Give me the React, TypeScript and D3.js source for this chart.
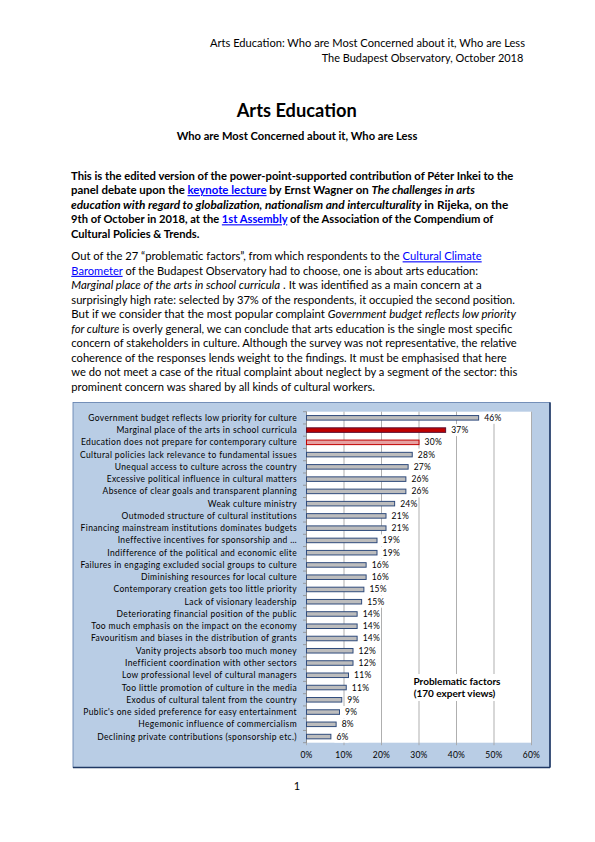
import React from "react";
import * as d3 from "d3";

const categories: string[] = [
  "Government budget reflects low priority for culture",
  "Marginal place of the arts in school curricula",
  "Education does not prepare for contemporary culture",
  "Cultural policies lack relevance to fundamental issues",
  "Unequal access to culture across the country",
  "Excessive political influence in cultural matters",
  "Absence of clear goals and transparent planning",
  "Weak culture ministry",
  "Outmoded structure of cultural institutions",
  "Financing mainstream institutions dominates budgets",
  "Ineffective incentives for sponsorship and …",
  "Indifference of the political and economic elite",
  "Failures in engaging excluded social groups to culture",
  "Diminishing resources for local culture",
  "Contemporary creation gets too little priority",
  "Lack of visionary leadership",
  "Deteriorating financial position of the public",
  "Too much emphasis on the impact on the economy",
  "Favouritism and biases in the distribution of grants",
  "Vanity projects absorb too much money",
  "Inefficient coordination with other sectors",
  "Low professional level of cultural managers",
  "Too little promotion of culture in the media",
  "Exodus of cultural talent from the country",
  "Public's one sided preference for easy entertainment",
  "Hegemonic influence of commercialism",
  "Declining private contributions (sponsorship etc.)",
];

const values: number[] = [
  45.9, 37.1, 30.0, 28.2, 27.1, 26.5, 26.5, 23.5, 21.2, 21.2, 18.8, 18.8, 15.9,
  15.9, 15.3, 14.7, 13.5, 13.5, 13.5, 12.4, 12.4, 11.2, 10.6, 9.4, 8.8, 7.9, 6.5,
];

const valueLabels: string[] = [
  "46%", "37%", "30%", "28%", "27%", "26%", "26%", "24%", "21%", "21%", "19%",
  "19%", "16%", "16%", "15%", "15%", "14%", "14%", "14%", "12%", "12%", "11%",
  "11%", "9%", "9%", "8%", "6%",
];

const xTicks: number[] = [0, 10, 20, 30, 40, 50, 60];

const legendLines: string[] = ["Problematic factors", "(170 expert views)"];

const headerLines: string[] = [
  "Arts Education: Who are Most Concerned about it, Who are Less",
  "The Budapest Observatory, October 2018",
];

const titleText = "Arts Education";
const subtitleText = "Who are Most Concerned about it, Who are Less";

type Seg = { t: string; i?: boolean; link?: boolean };

const boldPara: Seg[][] = [
  [{ t: "This is the edited version of the power-point-supported contribution of Péter Inkei to the" }],
  [
    { t: "panel debate upon the " },
    { t: "keynote lecture", link: true },
    { t: " by Ernst Wagner on " },
    { t: "The challenges in arts", i: true },
  ],
  [
    { t: "education with regard to globalization, nationalism and interculturality", i: true },
    { t: " in Rijeka, on the" },
  ],
  [
    { t: "9th of October in 2018, at the " },
    { t: "1st Assembly", link: true },
    { t: " of the Association of the Compendium of" },
  ],
  [{ t: "Cultural Policies & Trends." }],
];
const boldEnds = [513.3, 475, 508.3, 493.3, 199.3];

const bodyPara: Seg[][] = [
  [
    { t: "Out of the 27 “problematic factors”, from which respondents to the " },
    { t: "Cultural Climate", link: true },
  ],
  [
    { t: "Barometer", link: true },
    { t: " of the Budapest Observatory had to choose, one is about arts education:" },
  ],
  [
    { t: "Marginal place of the arts in school curricula", i: true },
    { t: " . It was identified as a main concern at a" },
  ],
  [{ t: "surprisingly high rate: selected by 37% of the respondents, it occupied the second position." }],
  [
    { t: "But if we consider that the most popular complaint " },
    { t: "Government budget reflects low priority", i: true },
  ],
  [
    { t: "for culture", i: true },
    { t: " is overly general, we can conclude that arts education is the single most specific" },
  ],
  [{ t: "concern of stakeholders in culture.  Although the survey was not representative, the relative" }],
  [{ t: "coherence of the responses lends weight to the findings. It must be emphasised that here" }],
  [{ t: "we do not meet a case of the ritual complaint about neglect by a segment of the sector: this" }],
  [{ t: "prominent concern was shared by all kinds of cultural workers." }],
];
const bodyEnds = [481.7, 478, 481.7, 515, 516, 512.3, 516.7, 506.7, 517.3, 375];

const FONT = "Lato, 'Open Sans', sans-serif";

function Para({
  lines,
  ends,
  x0,
  y0,
  dy,
  size,
  weight,
}: {
  lines: Seg[][];
  ends: number[];
  x0: number;
  y0: number;
  dy: number;
  size: number;
  weight: string;
}) {
  return (
    <g fontFamily={FONT} fontSize={size} fontWeight={weight} fill="#000">
      {lines.map((segs, li) => (
        <text
          key={li}
          x={x0}
          y={y0 + li * dy}
          textLength={ends[li] - x0}
          lengthAdjust="spacingAndGlyphs"
        >
          {segs.map((s, si) => (
            <tspan
              key={si}
              fontStyle={s.i ? "italic" : "normal"}
              fill={s.link ? "#0000FF" : "#000"}
              textDecoration={s.link ? "underline" : "none"}
              style={s.link ? { textDecoration: "underline" } : undefined}
            >
              {s.t}
            </tspan>
          ))}
        </text>
      ))}
    </g>
  );
}

function Chart() {
  const box = { x: 73, y: 402.5, w: 477, h: 365 };
  const plot = { left: 306.5, right: 531.5, top: 411.7, bottom: 742.7 };

  const x = d3.scaleLinear().domain([0, 60]).range([plot.left, plot.right]);
  const y = d3
    .scaleBand<string>()
    .domain(categories)
    .range([plot.top, plot.bottom])
    .paddingInner(0.63)
    .paddingOuter(0.315);
  const step = y.step();
  const bw = y.bandwidth();

  const barFill = (i: number) => (i === 1 ? "#C00000" : i === 2 ? "#E6A1A1" : "#BDBDBD");
  const barStroke = (i: number) => (i === 1 ? "#5A1030" : i === 2 ? "#C00000" : "#2F4B7C");

  return (
    <g fontFamily={FONT}>
      <rect x={box.x} y={box.y} width={box.w} height={box.h} fill="#B9CDE5" stroke="#5B7BAA" strokeWidth={0.8} />
      <line x1={box.x + box.w} y1={box.y} x2={box.x + box.w} y2={box.y + box.h} stroke="#1F3864" strokeWidth={1.6} />
      <line x1={box.x} y1={box.y + box.h} x2={box.x + box.w} y2={box.y + box.h} stroke="#1F3864" strokeWidth={1.6} />
      <rect x={plot.left} y={plot.top} width={plot.right - plot.left} height={plot.bottom - plot.top} fill="#FFFFFF" />
      {xTicks.map((t) => (
        <line key={t} x1={x(t)} x2={x(t)} y1={plot.top} y2={plot.bottom + 2.5} stroke="#A6A6A6" strokeWidth={0.9} />
      ))}
      {d3.range(categories.length + 1).map((k) => (
        <line
          key={k}
          x1={plot.left - 3.5}
          x2={plot.left}
          y1={plot.top + k * step}
          y2={plot.top + k * step}
          stroke="#8C8C8C"
          strokeWidth={0.8}
        />
      ))}
      <line x1={plot.left} x2={plot.left} y1={plot.top} y2={plot.bottom} stroke="#8C8C8C" strokeWidth={0.9} />
      {categories.map((c, i) => (
        <rect
          key={"bg" + i}
          x={x(values[i]) + 3.5}
          y={(y(c) as number) + bw / 2 - 6}
          width={valueLabels[i].length * 5.1 + 4}
          height={12}
          fill="#FFFFFF"
        />
      ))}
      {categories.map((c, i) => (
        <rect
          key={"b" + i}
          x={x(0)}
          y={y(c) as number}
          width={x(values[i]) - x(0)}
          height={bw}
          fill={barFill(i)}
          stroke={barStroke(i)}
          strokeWidth={1}
        />
      ))}
      {categories.map((c, i) => (
        <text
          key={"v" + i}
          x={x(values[i]) + 5.5}
          y={(y(c) as number) + bw / 2 + 3}
          fontSize={8.5}
          letterSpacing={0.3}
          fill="#000"
        >
          {valueLabels[i]}
        </text>
      ))}
      {categories.map((c, i) => (
        <text
          key={"c" + i}
          x={297}
          y={(y(c) as number) + bw / 2 + 3}
          fontSize={8.5}
          letterSpacing={0.36}
          textAnchor="end"
          fill="#000"
        >
          {c}
        </text>
      ))}
      {xTicks.map((t) => (
        <text key={"t" + t} x={x(t)} y={757.5} fontSize={8.5} letterSpacing={0.2} textAnchor="middle" fill="#000">
          {t + "%"}
        </text>
      ))}
      <rect x={404} y={674} width={106} height={27} fill="#FFFFFF" />
      {legendLines.map((l, i) => (
        <text key={l} x={i === 0 ? 457 : 454.5} y={684.5 + i * 12.5} fontSize={10} fontWeight="bold" textAnchor="middle">
          {l}
        </text>
      ))}
    </g>
  );
}

export default function App() {
  return (
    <svg
      width={595}
      height={842}
      viewBox="0 0 595 842"
      style={{ position: "absolute", left: 0, top: 0, background: "#fff" }}
    >
      <rect width={595} height={842} fill="#fff" />
      <g fontFamily={FONT} fontSize={11}>
        <text x={525} y={47} textAnchor="end" textLength={315} lengthAdjust="spacingAndGlyphs">
          {headerLines[0]}
        </text>
        <text x={523.3} y={61.5} textAnchor="end" textLength={201.6} lengthAdjust="spacingAndGlyphs">
          {headerLines[1]}
        </text>
        <text x={236.7} y={116.7} fontSize={18} fontWeight="bold" textLength={120} lengthAdjust="spacingAndGlyphs">
          {titleText}
        </text>
        <text x={176.7} y={140} fontSize={11} fontWeight="bold" textLength={240.6} lengthAdjust="spacingAndGlyphs">
          {subtitleText}
        </text>
      </g>
      <Para lines={boldPara} ends={boldEnds} x0={71} y0={179.5} dy={14.6} size={11} weight="bold" />
      <Para lines={bodyPara} ends={bodyEnds} x0={71.3} y0={260.3} dy={14.52} size={11} weight="normal" />
      <Chart />
      <text x={297} y={789.5} fontFamily={FONT} fontSize={11} textAnchor="middle">
        1
      </text>
    </svg>
  );
}
